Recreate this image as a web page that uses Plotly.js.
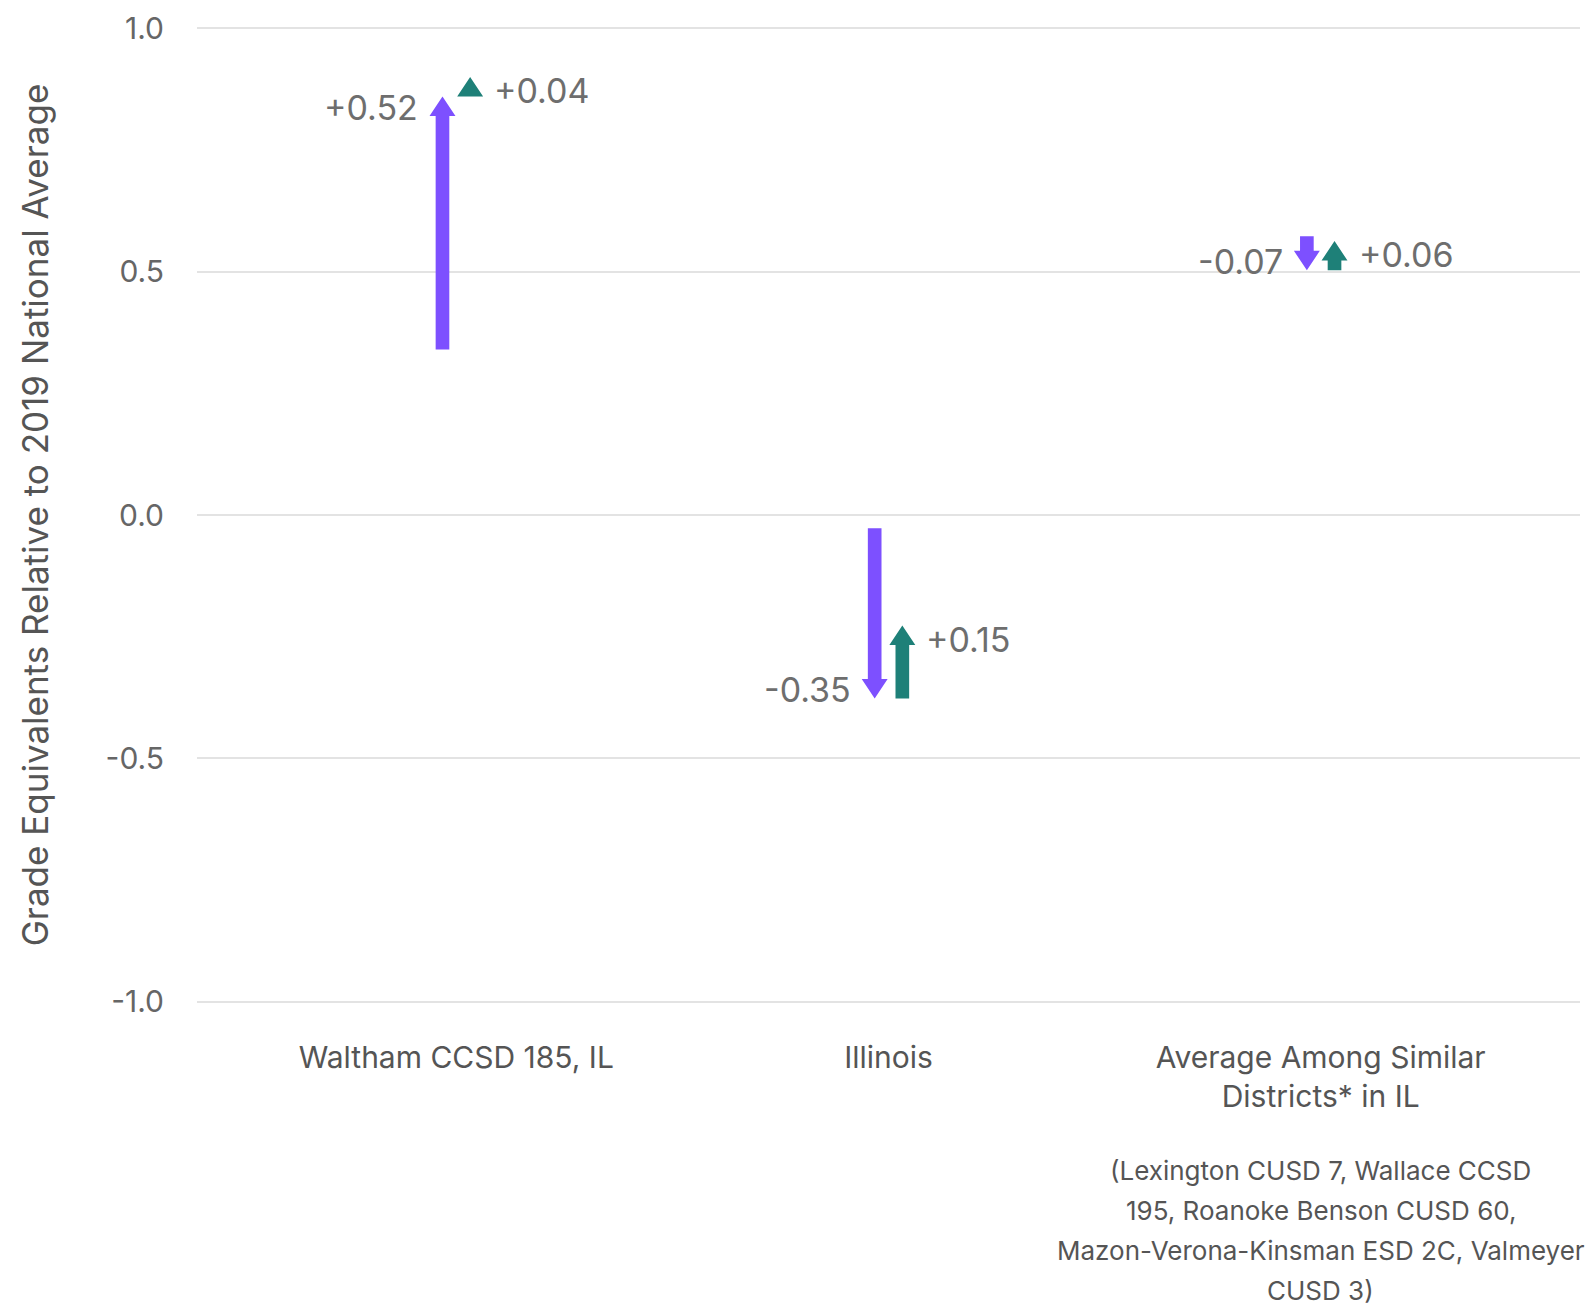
<!DOCTYPE html>
<html>
<head>
<meta charset="utf-8">
<script src="https://cdn.plot.ly/plotly-3.0.1.min.js"></script>
<style>html,body{margin:0;padding:0;background:#fff;overflow:hidden}</style>
</head>
<body>
<div id="chart" style="width:1595px;height:1307px"></div>
<script>
// ---- data ----
const categories = ['Waltham CCSD 185, IL', 'Illinois', 'Average Among Similar<br>Districts* in IL'];
const startValues = [0.34, -0.027, 0.573];
const change1 = [0.52, -0.35, -0.07];
const change2 = [0.04, 0.15, 0.06];
const change1Labels = ['+0.52', '-0.35', '-0.07'];
const change2Labels = ['+0.04', '+0.15', '+0.06'];
const yTickVals = [-1, -0.5, 0, 0.5, 1];
const yTickText = ['-1.0', '-0.5', '0.0', '0.5', '1.0'];
const noteLines = ['(Lexington CUSD 7, Wallace CCSD', '195, Roanoke Benson CUSD 60,', 'Mazon-Verona-Kinsman ESD 2C, Valmeyer', 'CUSD 3)'];
const yTitle = 'Grade Equivalents Relative to 2019 National Average';

// ---- styles ----
const PURPLE = '#7D50FF';
const TEAL = '#1E8078';
const FONT = 'Inter, "Noto Sans", sans-serif';
const OFFSET = 0.032;      // x offset of each arrow from category centre
const SHAFT_HW = 0.0158;   // shaft half-width (x units)
const HEAD_HW = 0.030;     // head half-width (x units)
const HEAD_LEN = 0.040;    // head length (y units)

const xs = categories.map((c, i) => i);
const mid = startValues.map((s, i) => s + change1[i]);
const ends = mid.map((m, i) => m + change2[i]);

function arrowPath(xc, y0, y1) {
  const d = y1 >= y0 ? 1 : -1;
  let yb = y1 - d * HEAD_LEN;
  if ((yb - y0) * d < 0) yb = y0;
  return {
    x: [xc - SHAFT_HW, xc - SHAFT_HW, xc - HEAD_HW, xc, xc + HEAD_HW, xc + SHAFT_HW, xc + SHAFT_HW, xc - SHAFT_HW, null],
    y: [y0, yb, yb, y1, yb, yb, y0, y0, null]
  };
}
function arrowTrace(xOff, y0s, y1s, color) {
  const X = [], Y = [];
  xs.forEach((x, i) => {
    const p = arrowPath(x + xOff, y0s[i], y1s[i]);
    X.push(...p.x); Y.push(...p.y);
  });
  return {type: 'scatter', mode: 'lines', x: X, y: Y, fill: 'toself', fillcolor: color,
          line: {width: 0, color: color}, hoverinfo: 'skip', showlegend: false};
}

const traces = [
  arrowTrace(-OFFSET, startValues, mid, PURPLE),
  arrowTrace(OFFSET, mid, ends, TEAL)
];

const annotations = [];
xs.forEach((x, i) => {
  const d1 = change1[i] >= 0 ? 1 : -1;
  const d2 = change2[i] >= 0 ? 1 : -1;
  annotations.push({x: x - OFFSET, y: mid[i] - d1 * HEAD_LEN / 2, xref: 'x', yref: 'y',
    text: change1Labels[i], showarrow: false, xanchor: 'right', yanchor: 'middle', xshift: -22, yshift: -1,
    font: {family: FONT, size: 34, color: '#6e6e6e'}});
  annotations.push({x: x + OFFSET, y: ends[i] - d2 * HEAD_LEN / 2, xref: 'x', yref: 'y',
    text: change2Labels[i], showarrow: false, xanchor: 'left', yanchor: 'middle', xshift: 22, yshift: -4,
    font: {family: FONT, size: 34, color: '#6e6e6e'}});
});
noteLines.forEach((t, k) => {
  annotations.push({x: 2, y: -0.172 - k * 0.0408, xref: 'x', yref: 'paper', text: t, showarrow: false,
    xanchor: 'center', yanchor: 'middle', font: {family: FONT, size: 26, color: '#555'}});
});

const layout = {
  width: 1595, height: 1307,
  margin: {l: 197, r: 15, t: 27, b: 304},
  paper_bgcolor: '#fff', plot_bgcolor: '#fff',
  showlegend: false,
  font: {family: FONT, color: '#555'},
  xaxis: {range: [-0.6, 2.6], tickvals: xs, ticktext: categories, showgrid: false, zeroline: false,
          showline: false, ticks: '', ticklabelstandoff: 34, tickfont: {family: FONT, size: 30, color: '#555'}},
  yaxis: {range: [-1.003, 1.003], tickvals: yTickVals, ticktext: yTickText, showgrid: true,
          gridcolor: '#e3e3e3', gridwidth: 2, zeroline: false, showline: false, ticks: '',
          ticklabelstandoff: 32, tickfont: {family: FONT, size: 30, color: '#666'},
          title: {text: yTitle, standoff: 46, font: {family: FONT, size: 35, color: '#555'}}},
  annotations: annotations
};

Plotly.newPlot('chart', traces, layout, {displayModeBar: false, staticPlot: true});
</script>
</body>
</html>
